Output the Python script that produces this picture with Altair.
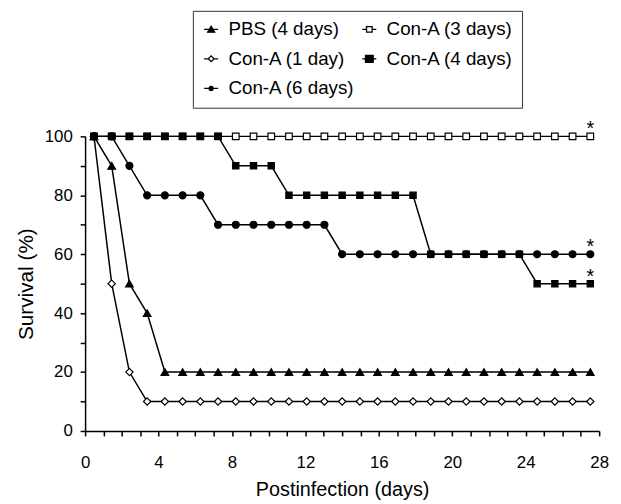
import altair as alt
import pandas as pd

# ---- data ----
days = [0, 1, 2, 3, 4, 5, 6, 7, 8, 9, 10, 11, 12, 13, 14, 15, 16, 17, 18, 19, 20,
        21, 22, 23, 24, 25, 26, 27, 28]
x_ticks = [0, 1, 2, 3, 4, 5, 6, 7, 8, 9, 10, 11, 12, 13, 14, 15, 16, 17, 18, 19, 20,
           21, 22, 23, 24, 25, 26, 27, 28]
y_ticks = [0, 10, 20, 30, 40, 50, 60, 70, 80, 90, 100]

# legend order (filled column by column: left column, then right column)
series_names = ["PBS (4 days)", "Con-A (1 day)", "Con-A (6 days)",
                "Con-A (3 days)", "Con-A (4 days)"]

pbs_4d = [100, 90, 50, 40, 20, 20, 20, 20, 20, 20, 20, 20, 20, 20, 20, 20, 20, 20,
          20, 20, 20, 20, 20, 20, 20, 20, 20, 20, 20]
cona_3d = [100, 100, 100, 100, 100, 100, 100, 100, 100, 100, 100, 100, 100, 100, 100,
           100, 100, 100, 100, 100, 100, 100, 100, 100, 100, 100, 100, 100, 100]
cona_1d = [100, 50, 20, 10, 10, 10, 10, 10, 10, 10, 10, 10, 10, 10, 10, 10, 10, 10,
           10, 10, 10, 10, 10, 10, 10, 10, 10, 10, 10]
cona_4d = [100, 100, 100, 100, 100, 100, 100, 100, 90, 90, 90, 80, 80, 80, 80, 80,
           80, 80, 80, 60, 60, 60, 60, 60, 60, 50, 50, 50, 50]
cona_6d = [100, 100, 90, 80, 80, 80, 80, 70, 70, 70, 70, 70, 70, 70, 60, 60, 60, 60,
           60, 60, 60, 60, 60, 60, 60, 60, 60, 60, 60]

star_series = ["Con-A (3 days)", "Con-A (6 days)", "Con-A (4 days)"]
star_days = [28, 28, 28]
star_values = [100, 60, 50]

# ---- styling (same order as series_names) ----
FONT = "Liberation Sans"
point_shapes = ["triangle-up", "diamond", "circle", "square", "square"]
point_fills = ["black", "white", "black", "white", "black"]
point_sizes = [60, 40, 20, 45, 115]
legend_paths = [
    "M-1,0H1M0,-0.45L0.5,0.4L-0.5,0.4Z",
    "M-1,0H-0.4M0.4,0H1M0,-0.42L0.42,0L0,0.42L-0.42,0Z",
    "M-1,0H1M0.28,0A0.28,0.28,0,1,1,-0.28,0A0.28,0.28,0,1,1,0.28,0Z",
    "M-1,0H-0.4M0.4,0H1M-0.4,-0.4H0.4V0.4H-0.4Z",
    "M-1,0H1M-0.55,-0.5H0.55V0.5H-0.55Z",
]
draw_order = {"Con-A (3 days)": 0, "PBS (4 days)": 1, "Con-A (1 day)": 2,
              "Con-A (6 days)": 3, "Con-A (4 days)": 4}

values_by_series = {
    "PBS (4 days)": pbs_4d,
    "Con-A (3 days)": cona_3d,
    "Con-A (1 day)": cona_1d,
    "Con-A (4 days)": cona_4d,
    "Con-A (6 days)": cona_6d,
}
rows = []
for name, vals in values_by_series.items():
    for d, v in zip(days, vals):
        rows.append({"series": name, "day": d, "survival": v, "z": draw_order[name]})
df = pd.DataFrame(rows).sort_values(["z", "day"]).reset_index(drop=True)

stars = pd.DataFrame({"series": star_series, "day": star_days, "survival": star_values})
ticks_df = pd.DataFrame({"tick": x_ticks})

x_data = alt.X("day:Q", scale=alt.Scale(domain=[-0.5, 28.5], nice=False, zero=False), axis=None)
y_enc = alt.Y(
    "survival:Q",
    title="Survival (%)",
    scale=alt.Scale(domain=[0, 100], nice=False),
    axis=alt.Axis(values=y_ticks, labelExpr="datum.value % 20 == 0 ? datum.label : ''",
                  labelFlush=False, labelPadding=8, titlePadding=8, grid=False),
)

axis_layer = alt.Chart(ticks_df).mark_point(opacity=0).encode(
    x=alt.X("tick:Q", title="Postinfection (days)",
            scale=alt.Scale(domain=[0, 28], nice=False, zero=False),
            axis=alt.Axis(values=x_ticks, orient="bottom",
                          labelExpr="datum.value % 4 == 0 ? datum.label : ''",
                          labelFlush=False, labelOverlap=False, labelPadding=19,
                          titlePadding=9, titleFontSize=20, grid=False)),
    y=alt.value(0),
)

lines = alt.Chart(df).mark_line(color="black", strokeWidth=1.5).encode(
    x=x_data, y=y_enc, detail="series:N", order="day:Q"
)

points = alt.Chart(df).mark_point(opacity=1, stroke="black", strokeWidth=1.2).encode(
    x=x_data, y=y_enc,
    shape=alt.Shape("series:N", scale=alt.Scale(domain=series_names, range=point_shapes), legend=None),
    fill=alt.Fill("series:N", scale=alt.Scale(domain=series_names, range=point_fills), legend=None),
    size=alt.Size("series:N", scale=alt.Scale(domain=series_names, range=point_sizes), legend=None),
    order="z:Q",
)

leg = alt.Legend(
    title=None, orient="none", legendX=109, legendY=-127, columns=2,
    strokeColor="#333333", padding=9, rowPadding=10, columnPadding=4,
    labelFont=FONT, labelFontSize=19, labelColor="black", labelOffset=8,
    symbolSize=200, symbolStrokeWidth=1.3, symbolOpacity=1,
)
legend_carrier = alt.Chart(df).mark_point(opacity=0).encode(
    x=x_data, y=y_enc,
    shape=alt.Shape("series:N", scale=alt.Scale(domain=series_names, range=legend_paths), legend=leg),
    fill=alt.Fill("series:N", scale=alt.Scale(domain=series_names, range=point_fills), legend=leg),
    stroke=alt.Stroke("series:N", scale=alt.Scale(domain=series_names,
                                                  range=["black", "black", "black", "black", "black"]),
                      legend=leg),
)

star_layer = alt.Chart(stars).mark_text(
    text="*", font=FONT, fontSize=20, color="black", baseline="middle", dy=-7
).encode(x=x_data, y=y_enc)

chart = alt.layer(axis_layer, lines, points, legend_carrier, star_layer).resolve_scale(
    x="independent", shape="independent", fill="independent", stroke="independent"
).properties(
    width=520, height=298,
    padding={"left": 78, "top": 127, "right": 14, "bottom": 70},
    autosize=alt.AutoSizeParams(type="none"),
).configure_view(stroke=None).configure_axis(
    domainColor="black", domainWidth=1.5, tickColor="black", tickWidth=1.5, tickSize=5,
    labelFont=FONT, labelFontSize=17, labelColor="black",
    titleFont=FONT, titleFontSize=21, titleColor="black", titleFontWeight="normal",
)

chart.save("out.html", embed_options={"renderer": "svg", "actions": False})
